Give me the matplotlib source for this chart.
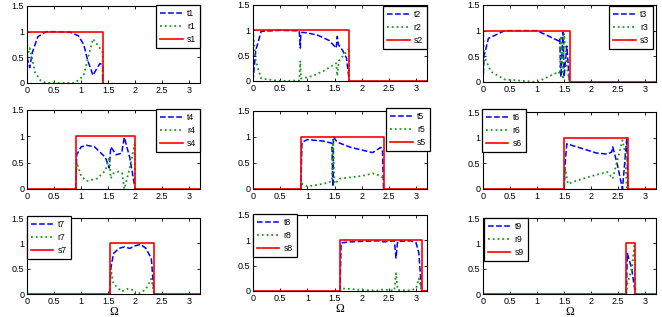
import numpy as np
import matplotlib.pyplot as plt

# ---- data: (Omega, value) samples for each panel ----
t1_x = [0, 0.05, 0.1, 0.2, 0.35, 0.5, 0.8, 0.95, 1.05, 1.12, 1.22, 1.3, 1.35, 1.4, 1.4]
t1_y = [0.5, 0.3, 0.6, 0.9, 1.0, 1.0, 0.99, 0.92, 0.75, 0.45, 0.15, 0.3, 0.38, 0.35, 0]
r1_x = [0, 0.05, 0.1, 0.15, 0.25, 0.35, 0.85, 0.95, 1.05, 1.12, 1.22, 1.3, 1.4, 1.4]
r1_y = [0.5, 0.68, 0.45, 0.2, 0.05, 0.0, 0.0, 0.05, 0.15, 0.45, 0.86, 0.75, 0.6, 0]
s1_x = [0, 0, 1.4, 1.4]
s1_y = [0, 1, 1, 0]

t2_x = [0, 0.05, 0.15, 0.5, 0.85, 0.87, 0.88, 0.9, 1.0, 1.2, 1.4, 1.53, 1.55, 1.57, 1.65, 1.72, 1.77]
t2_y = [0, 0.6, 0.98, 1.0, 0.99, 0.65, 0.95, 0.96, 0.95, 0.9, 0.8, 0.65, 0.88, 0.72, 0.6, 0.45, 0]
r2_x = [0, 0.05, 0.15, 0.5, 0.85, 0.87, 0.88, 0.9, 1.1, 1.3, 1.53, 1.55, 1.58, 1.7, 1.77, 1.77]
r2_y = [1.0, 0.4, 0.05, 0.0, 0.01, 0.4, 0.05, 0.05, 0.1, 0.2, 0.35, 0.1, 0.4, 0.55, 0.65, 0]
s2_x = [0, 0, 1.77, 1.77, 3.2]
s2_y = [0, 1, 1, 0, 0]

t3_x = [0, 0.02, 0.1, 0.4, 1.0, 1.1, 1.3, 1.4, 1.42, 1.44, 1.48, 1.5, 1.55, 1.6]
t3_y = [0, 0.5, 0.85, 1.0, 1.0, 0.95, 0.85, 0.8, 0.85, 0.1, 0.97, 0.1, 0.7, 0]
r3_x = [0, 0.02, 0.15, 0.4, 1.0, 1.1, 1.3, 1.4, 1.42, 1.44, 1.48, 1.5, 1.55, 1.6]
r3_y = [1.0, 0.5, 0.2, 0.05, 0.0, 0.05, 0.15, 0.2, 0.15, 0.9, 0.05, 0.95, 0.3, 0]
s3_x = [0, 0, 1.6, 1.6, 3.2]
s3_y = [0, 1, 1, 0, 0]

t4_x = [0.9, 0.92, 1.0, 1.1, 1.25, 1.45, 1.52, 1.55, 1.65, 1.75, 1.8, 1.9, 2.0]
t4_y = [0, 0.65, 0.8, 0.83, 0.8, 0.6, 0.4, 0.8, 0.65, 0.68, 0.98, 0.6, 0]
r4_x = [0.9, 0.92, 1.0, 1.1, 1.3, 1.45, 1.52, 1.55, 1.6, 1.7, 1.76, 1.8, 1.9, 1.99, 2.0]
r4_y = [0, 0.5, 0.25, 0.15, 0.2, 0.35, 0.6, 0.2, 0.3, 0.33, 0.3, 0.0, 0.4, 0.85, 0]
s4_x = [0, 0.9, 0.9, 2.0, 2.0, 3.2]
s4_y = [0, 0, 1, 1, 0, 0]

t5_x = [0.88, 0.9, 1.0, 1.3, 1.45, 1.47, 1.48, 1.55, 1.8, 2.2, 2.35, 2.38, 2.4]
t5_y = [0, 0.9, 0.95, 0.92, 0.88, 0.05, 1.0, 0.9, 0.8, 0.7, 0.8, 0.75, 0]
r5_x = [0.88, 0.9, 1.0, 1.3, 1.45, 1.47, 1.5, 1.6, 2.0, 2.2, 2.35, 2.4]
r5_y = [0, 0.1, 0.05, 0.1, 0.15, 0.95, 0.1, 0.2, 0.25, 0.3, 0.25, 0.2]
s5_x = [0, 0.88, 0.88, 2.4, 2.4, 3.2]
s5_y = [0, 0, 1, 1, 0, 0]

t6_x = [1.5, 1.52, 1.55, 1.8, 2.1, 2.3, 2.38, 2.4, 2.48, 2.58, 2.62, 2.66, 2.68]
t6_y = [0, 0.5, 0.88, 0.8, 0.7, 0.68, 0.72, 0.82, 0.5, 0.0, 0.5, 1.0, 0]
r6_x = [1.5, 1.52, 1.57, 1.7, 2.0, 2.3, 2.4, 2.47, 2.58, 2.63, 2.66]
r6_y = [0, 0.4, 0.1, 0.15, 0.25, 0.33, 0.2, 0.5, 0.95, 0.7, 0]
s6_x = [0, 1.5, 1.5, 2.68, 2.68, 3.2]
s6_y = [0, 0, 1, 1, 0, 0]

t7_x = [1.53, 1.55, 1.6, 1.7, 1.8, 1.9, 2.0, 2.1, 2.2, 2.3, 2.35]
t7_y = [0, 0.5, 0.8, 0.9, 0.93, 0.9, 0.95, 0.98, 0.9, 0.7, 0]
r7_x = [1.53, 1.55, 1.6, 1.7, 1.75, 1.85, 1.95, 2.0, 2.1, 2.2, 2.3, 2.35]
r7_y = [0, 0.5, 0.2, 0.1, 0.05, 0.1, 0.08, 0.0, 0.02, 0.1, 0.3, 0]
s7_x = [0, 1.53, 1.53, 2.35, 2.35, 3.2]
s7_y = [0, 0, 1, 1, 0, 0]

t8_x = [1.6, 1.62, 1.8, 2.0, 2.3, 2.4, 2.6, 2.63, 2.66, 2.9, 3.0, 3.05, 3.1]
t8_y = [0, 0.95, 0.97, 0.98, 0.99, 0.97, 0.99, 0.65, 0.98, 0.99, 0.95, 0.75, 0]
r8_x = [1.6, 1.62, 1.8, 2.0, 2.3, 2.4, 2.6, 2.63, 2.66, 2.9, 3.0, 3.05, 3.1]
r8_y = [0, 0.05, 0.04, 0.02, 0.01, 0.03, 0.01, 0.35, 0.02, 0.01, 0.05, 0.25, 0]
s8_x = [0, 1.6, 1.6, 3.1, 3.1, 3.2]
s8_y = [0, 0, 1, 1, 0, 0]

t9_x = [2.65, 2.67, 2.75, 2.82]
t9_y = [0, 0.8, 0.5, 0]
r9_x = [2.65, 2.67, 2.75, 2.8, 2.82]
r9_y = [0, 0.2, 0.5, 0.95, 0]
s9_x = [0, 2.65, 2.65, 2.82, 2.82, 3.2]
s9_y = [0, 0, 1, 1, 0, 0]

panels = [
    (t1_x, t1_y, r1_x, r1_y, s1_x, s1_y),
    (t2_x, t2_y, r2_x, r2_y, s2_x, s2_y),
    (t3_x, t3_y, r3_x, r3_y, s3_x, s3_y),
    (t4_x, t4_y, r4_x, r4_y, s4_x, s4_y),
    (t5_x, t5_y, r5_x, r5_y, s5_x, s5_y),
    (t6_x, t6_y, r6_x, r6_y, s6_x, s6_y),
    (t7_x, t7_y, r7_x, r7_y, s7_x, s7_y),
    (t8_x, t8_y, r8_x, r8_y, s8_x, s8_y),
    (t9_x, t9_y, r9_x, r9_y, s9_x, s9_y),
]

# ---- layout (pixel boxes: left, top, right, bottom) ----
W, H = 662, 317
boxes = [(27, 6, 200, 83), (253, 5, 427, 81), (483, 5, 656, 82),
         (27, 110, 200, 189), (253, 111, 427, 189), (483, 112, 656, 189),
         (27, 218, 200, 294), (253, 215, 427, 291), (483, 218, 656, 294)]
# legend anchor corner (x, y) in pixels and which corner
legs = [((200, 5), 'upper right'), ((427, 6), 'upper right'), ((653, 6), 'upper right'),
        ((200, 109), 'upper right'), ((430, 108), 'upper right'), ((482, 109), 'upper left'),
        ((27, 216), 'upper left'), ((253, 214), 'upper left'), ((484, 218), 'upper left')]

plt.rcParams['font.family'] = ['Liberation Sans', 'DejaVu Sans']
fig = plt.figure(figsize=(W / 100, H / 100), dpi=100)

for i, (tx, ty, rx, ry, sx, sy) in enumerate(panels):
    l, t, r, b = boxes[i]
    ax = fig.add_axes([l / W, 1 - b / H, (r - l) / W, (b - t) / H])
    n = i + 1
    ax.plot(tx, ty, '--', color='blue', lw=1.1, label='t%d' % n)
    ax.plot(rx, ry, ':', color='#1a9a1a', lw=1.3, label='r%d' % n)
    ax.plot(sx, sy, '-', color='red', lw=1.2, label='s%d' % n)
    ax.set_xlim(0, 3.2)
    ax.set_ylim(0, 1.5)
    ax.set_xticks([0, 0.5, 1, 1.5, 2, 2.5, 3])
    ax.set_xticklabels(['0', '0.5', '1', '1.5', '2', '2.5', '3'])
    ax.set_yticks([0, 0.5, 1, 1.5])
    ax.set_yticklabels(['0', '0.5', '1', '1.5'])
    ax.tick_params(direction='in', top=True, right=True, labelsize=6.5,
                   length=2.5, width=0.6, pad=2)
    for sp in ax.spines.values():
        sp.set_linewidth(0.8)
    (lx, ly), loc = legs[i]
    lg = ax.legend(loc=loc, bbox_to_anchor=(lx / W, 1 - ly / H),
                   bbox_transform=fig.transFigure, fontsize=6.2,
                   fancybox=False, framealpha=1, edgecolor='black',
                   handlelength=2.6, handletextpad=0.5, labelspacing=0.45,
                   borderpad=0.45, borderaxespad=0)
    lg.get_frame().set_linewidth(0.9)
    if i >= 6:
        ax.set_xlabel('Ω', family=['Liberation Serif', 'DejaVu Serif'],
                      fontsize=8.5, labelpad=0)

fig.savefig('out.png', dpi=100)
